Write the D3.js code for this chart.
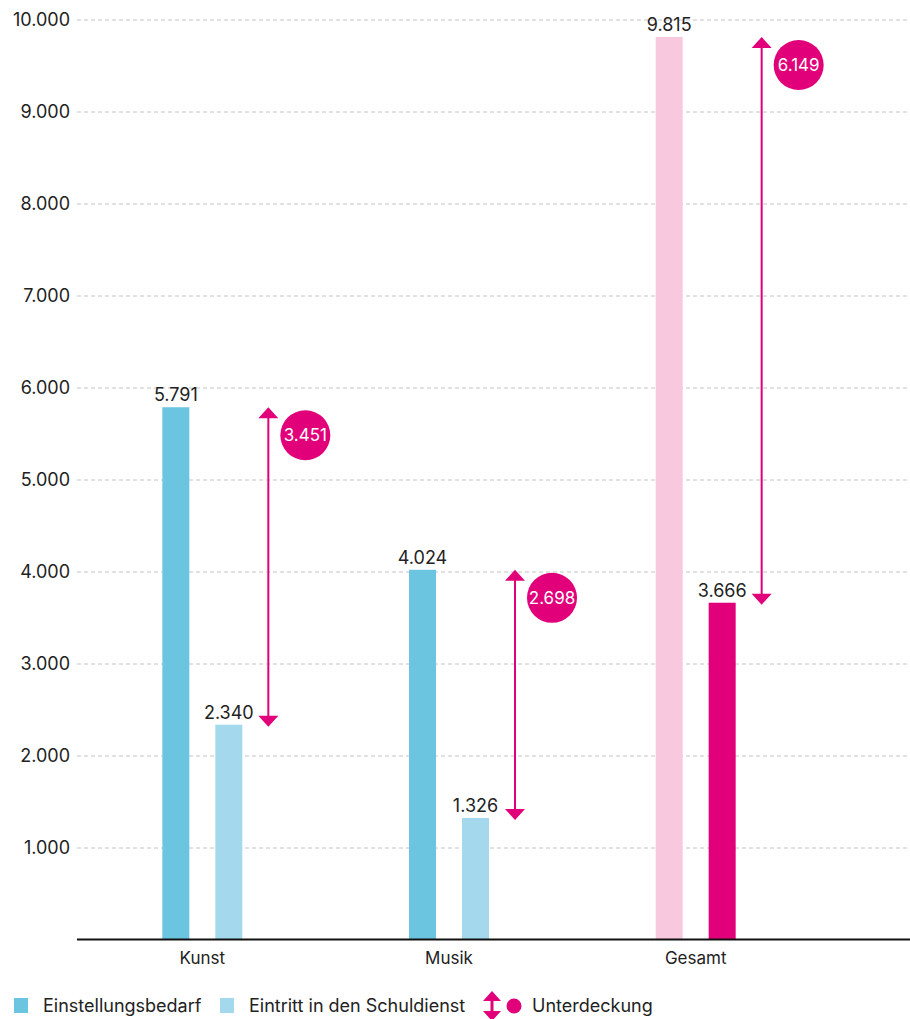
<!DOCTYPE html>
<html><head><meta charset="utf-8">
<script src="https://cdn.jsdelivr.net/npm/d3@7"></script>
<style>body{margin:0;background:#fff}svg{display:block;font-family:Inter,"Noto Sans",sans-serif}</style>
</head><body><svg id="c" width="910" height="1019"></svg>
<script>
const categories = ["Kunst", "Musik", "Gesamt"];
const bedarf = [5791, 4024, 9815];
const eintritt = [2340, 1326, 3666];
const unterdeckung = [3451, 2698, 6149];
const yTicks = [1000,2000,3000,4000,5000,6000,7000,8000,9000,10000];
const legendLabels = ["Einstellungsbedarf", "Eintritt in den Schuldienst", "Unterdeckung"];

const colBedarf = ["#6cc5e0","#6cc5e0","#f8c8de"];
const colEintritt = ["#a4d9ed","#a4d9ed","#e2007a"];
const magenta = "#e2007a";
const fmt = d3.formatLocale({decimal:",",thousands:".",grouping:[3],currency:["","€"]}).format(",");

const svg = d3.select("#c");
const y = d3.scaleLinear().domain([0,10000]).range([940,20]);
const x = d3.scaleBand().domain(categories).range([79,819]);
const bw = 27;

// gridlines
svg.append("g").selectAll("line").data(yTicks).join("line")
  .attr("x1",77).attr("x2",910).attr("y1",d=>y(d)).attr("y2",d=>y(d))
  .attr("stroke","#c4c4c4").attr("stroke-dasharray","4,3").attr("stroke-width",1);

// y labels
svg.append("g").selectAll("text").data(yTicks).join("text")
  .attr("x",70).attr("y",d=>y(d)).attr("dy","0.36em").attr("text-anchor","end")
  .attr("font-size",18).attr("fill","#222").text(d=>fmt(d));

const g = svg.append("g");
categories.forEach((c,i)=>{
  const cx = x(c)+x.bandwidth()/2;
  const x1 = cx-26.5, x2 = cx+26.5;
  g.append("rect").attr("x",x1-bw/2).attr("width",bw).attr("y",y(bedarf[i])).attr("height",y(0)-y(bedarf[i])).attr("fill",colBedarf[i]);
  g.append("rect").attr("x",x2-bw/2).attr("width",bw).attr("y",y(eintritt[i])).attr("height",y(0)-y(eintritt[i])).attr("fill",colEintritt[i]);
  g.append("text").attr("x",x1).attr("y",y(bedarf[i])-6).attr("text-anchor","middle").attr("font-size",18).attr("fill","#222").text(fmt(bedarf[i]));
  g.append("text").attr("x",x2).attr("y",y(eintritt[i])-6).attr("text-anchor","middle").attr("font-size",18).attr("fill","#222").text(fmt(eintritt[i]));
  // arrow
  const ax = cx+66, yt = y(bedarf[i]), yb = y(eintritt[i]);
  g.append("line").attr("x1",ax).attr("x2",ax).attr("y1",yt+8).attr("y2",yb-8).attr("stroke",magenta).attr("stroke-width",2);
  g.append("path").attr("d",`M${ax},${yt} L${ax-10},${yt+11} L${ax+10},${yt+11} Z`).attr("fill",magenta);
  g.append("path").attr("d",`M${ax},${yb+2} L${ax-10},${yb-9} L${ax+10},${yb-9} Z`).attr("fill",magenta);
  g.append("circle").attr("cx",ax+37).attr("cy",yt+28).attr("r",25).attr("fill",magenta);
  g.append("text").attr("x",ax+37).attr("y",yt+28).attr("dy","0.36em").attr("text-anchor","middle").attr("font-size",17).attr("fill","#fff").text(fmt(unterdeckung[i]));
  // x label
  svg.append("text").attr("x",cx).attr("y",964).attr("text-anchor","middle").attr("font-size",17).attr("fill","#222").text(c);
});

// axis line
svg.append("line").attr("x1",77).attr("x2",910).attr("y1",939.5).attr("y2",939.5).attr("stroke","#111").attr("stroke-width",2);

// legend
const lg = svg.append("g").attr("font-size",18).attr("fill","#222");
lg.append("rect").attr("x",14).attr("y",998).attr("width",14).attr("height",15).attr("fill","#6cc5e0");
lg.append("text").attr("x",43).attr("y",1006).attr("dy","0.36em").text(legendLabels[0]);
lg.append("rect").attr("x",220).attr("y",998).attr("width",14).attr("height",15).attr("fill","#a4d9ed");
lg.append("text").attr("x",249).attr("y",1006).attr("dy","0.36em").text(legendLabels[1]);
lg.append("path").attr("d","M492,991 L483,1001 L501,1001 Z M492,1021 L483,1011 L501,1011 Z").attr("fill",magenta);
lg.append("rect").attr("x",490.5).attr("y",998).attr("width",3).attr("height",16).attr("fill",magenta);
lg.append("circle").attr("cx",514).attr("cy",1006).attr("r",7.5).attr("fill",magenta);
lg.append("text").attr("x",532).attr("y",1006).attr("dy","0.36em").text(legendLabels[2]);
</script></body></html>
